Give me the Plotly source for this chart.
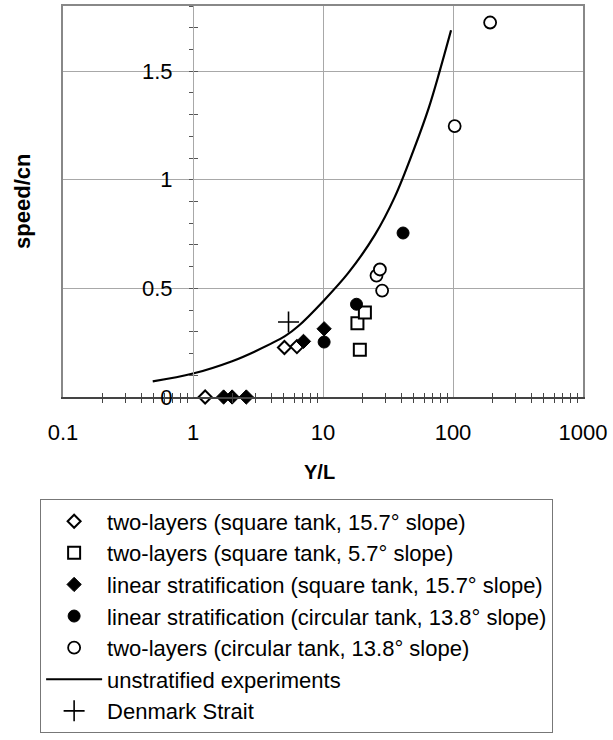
import plotly.graph_objects as go

# ---------------- data ----------------
tl_sq157_x = [1.24, 5.05, 6.3]
tl_sq157_y = [0.0, 0.228, 0.232]

tl_sq57_x = [18.4, 21.0, 19.2]
tl_sq57_y = [0.339, 0.389, 0.218]

lin_sq_x = [1.72, 2.0, 2.57, 7.08, 10.2]
lin_sq_y = [0.0, 0.0, 0.0, 0.256, 0.314]

lin_circ_x = [10.2, 18.1, 41.3]
lin_circ_y = [0.253, 0.427, 0.755]

tl_circ_x = [25.8, 27.4, 28.5, 103.0, 193.0]
tl_circ_y = [0.559, 0.587, 0.490, 1.247, 1.724]

unstrat_x = [0.49, 1.0, 2.0, 3.0, 5.1, 6.5, 10.0, 15.6, 25.0, 35.6, 50.0, 65.0, 79.0, 96.6]
unstrat_y = [0.072, 0.108, 0.165, 0.21, 0.28, 0.328, 0.44, 0.57, 0.745, 0.92, 1.14, 1.33, 1.5, 1.688]

denmark_x = [5.43]
denmark_y = [0.345]

x_tick_vals = [0.1, 1, 10, 100, 1000]
x_tick_text = ["0.1", "1", "10", "100", "1000"]
y_tick_vals = [0, 0.5, 1, 1.5]
y_tick_text = ["0", "0.5", "1", "1.5"]

names = [
    "two-layers (square tank, 15.7° slope)",
    "two-layers (square tank, 5.7° slope)",
    "linear stratification (square tank, 15.7° slope)",
    "linear stratification (circular tank, 13.8° slope)",
    "two-layers (circular tank, 13.8° slope)",
    "unstratified experiments",
    "Denmark Strait",
]

FONT = "Liberation Sans, Arial, Helvetica, sans-serif"
minor_x = [m * 10 ** e for e in range(-1, 3) for m in range(2, 10)]

fig = go.Figure()

def mk(x, y, name, symbol, fill, size, lw=2):
    fig.add_trace(go.Scatter(
        x=x, y=y, mode="markers", name=name, legendgroup=name,
        marker=dict(symbol=symbol, color=fill, size=size,
                    line=dict(color="black", width=lw)),
        cliponaxis=False,
    ))

fig.add_trace(go.Scatter(
    x=unstrat_x, y=unstrat_y, mode="lines", name=names[5], legendgroup=names[5],
    line=dict(color="black", width=2.2, shape="spline", smoothing=1.0),
))
mk(tl_sq157_x, tl_sq157_y, names[0], "diamond", "white", 10)
mk(tl_sq57_x, tl_sq57_y, names[1], "square", "white", 12)
mk(lin_sq_x, lin_sq_y, names[2], "diamond", "black", 11, 1)
mk(lin_circ_x, lin_circ_y, names[3], "circle", "black", 12, 1)
mk(tl_circ_x, tl_circ_y, names[4], "circle", "white", 12, 1.8)
fig.add_trace(go.Scatter(
    x=denmark_x, y=denmark_y, mode="markers", name=names[6], legendgroup=names[6],
    marker=dict(symbol="cross-thin", size=15, color="black",
                line=dict(color="black", width=1.6)),
))
for tr in fig.data:
    if tr.name in names:
        tr.legendrank = names.index(tr.name) + 1

GRID = "#a8a8a8"

fig.update_layout(
    width=613, height=740,
    margin=dict(l=63, r=28, t=6, b=341),
    paper_bgcolor="white", plot_bgcolor="white",
    font=dict(family=FONT, color="black", size=22),
    showlegend=True,
    legend=dict(
        x=-0.044, y=-0.262, xanchor="left", yanchor="top",
        bordercolor="#777", borderwidth=1, bgcolor="white",
        font=dict(size=22, family=FONT), tracegroupgap=0,
        itemwidth=56,
    ),
    xaxis=dict(
        type="log", range=[-1, 3], anchor="y",
        tickvals=x_tick_vals, ticktext=x_tick_text,
        showgrid=True, gridcolor=GRID, gridwidth=1,
        showline=True, linecolor="#444", linewidth=2, mirror=False,
        ticks="", ticklabelstandoff=15,
        tickfont=dict(size=22),
        minor=dict(tickvals=minor_x, ticks="outside", ticklen=4,
                   tickcolor="#444", tickwidth=1, showgrid=False),
        zeroline=False,
    ),
    xaxis2=dict(
        type="log", range=[-1, 3], overlaying="x", anchor="y", side="bottom",
        showticklabels=False, showgrid=False, ticks="",
        minor=dict(tickvals=minor_x, ticks="inside", ticklen=4,
                   tickcolor="#444", tickwidth=1, showgrid=False),
    ),
    xaxis3=dict(
        type="log", range=[-1, 3], overlaying="x", anchor="y", side="top",
        showticklabels=False, showgrid=False, ticks="",
        showline=True, linecolor="#888", linewidth=2,
    ),
    yaxis=dict(
        range=[0, 1.8], anchor="free", position=0.25,
        tickvals=y_tick_vals, ticktext=y_tick_text,
        showgrid=True, gridcolor=GRID, gridwidth=1,
        showline=True, linecolor=GRID, linewidth=1,
        ticks="", ticklabelstandoff=16, tickfont=dict(size=22),
        minor=dict(dtick=0.1, ticks="outside", ticklen=4,
                   tickcolor="#555", tickwidth=1, showgrid=False),
        zeroline=False,
    ),
    yaxis2=dict(
        range=[0, 1.8], anchor="free", position=0.25, overlaying="y",
        showticklabels=False, showgrid=False, ticks="",
        minor=dict(dtick=0.1, ticks="inside", ticklen=4,
                   tickcolor="#555", tickwidth=1, showgrid=False),
        zeroline=False,
    ),
    yaxis3=dict(
        range=[0, 1.8], anchor="x", overlaying="y", side="left",
        showticklabels=False, showgrid=False, ticks="",
        showline=True, linecolor="#888", linewidth=2, mirror=True,
        zeroline=False,
    ),
    annotations=[
        dict(text="<b>Y/L</b>", xref="paper", yref="paper", x=0.494, y=-0.192,
             showarrow=False, font=dict(size=20, family=FONT), yanchor="middle"),
        dict(text="<b>speed/cn</b>", xref="paper", yref="paper", x=-0.078, y=0.5,
             showarrow=False, textangle=-90, font=dict(size=22, family=FONT),
             xanchor="center", yanchor="middle"),
    ],
)

# invisible helper traces so the overlay axes are drawn
fig.add_trace(go.Scatter(x=[1], y=[0], xaxis="x2", yaxis="y2", mode="markers",
                         marker=dict(opacity=0), showlegend=False, hoverinfo="skip"))
fig.add_trace(go.Scatter(x=[1], y=[0], xaxis="x3", yaxis="y3", mode="markers",
                         marker=dict(opacity=0), showlegend=False, hoverinfo="skip"))

fig.write_html("out.html")
